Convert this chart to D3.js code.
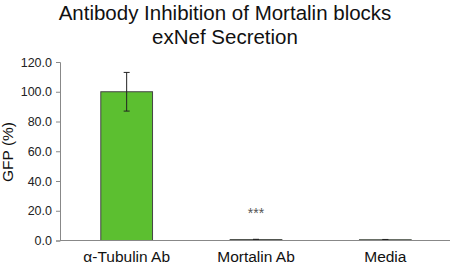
<!DOCTYPE html>
<html>
<head>
<meta charset="utf-8">
<script src="https://cdn.jsdelivr.net/npm/d3@7"></script>
<style>
  body { margin: 0; background: #fff; }
  text { font-family: 'Liberation Sans', Arial, sans-serif; }
</style>
</head>
<body>
<div id="chart"></div>
<script>
// Chart data
const categories = ['α-Tubulin Ab', 'Mortalin Ab', 'Media'];
const values = [100, 0.6, 0.5];
const errors = [13, 0.2, 0.2];
const yTicks = [0, 20, 40, 60, 80, 100, 120];
const titleLines = ['Antibody Inhibition of Mortalin blocks', 'exNef Secretion'];

const width = 450;
const height = 266;
const margin = { top: 62, right: 0, bottom: 25.5, left: 60 };

const svg = d3
  .select('#chart')
  .append('svg')
  .attr('width', width)
  .attr('height', height);

const x = d3
  .scaleBand()
  .domain(categories)
  .range([62, width])
  .padding(0);

const y = d3
  .scaleLinear()
  .domain([0, 120])
  .range([height - margin.bottom, margin.top]);

const barW = x.bandwidth() * 0.4;

// Title
svg
  .append('g')
  .selectAll('text')
  .data(titleLines)
  .enter()
  .append('text')
  .attr('x', 225)
  .attr('y', (d, i) => 20 + i * 24)
  .attr('text-anchor', 'middle')
  .style('font-size', '20.5px')
  .attr('fill', '#111')
  .text((d) => d);

// Y axis
const yAxis = svg
  .append('g')
  .attr('transform', `translate(${margin.left},0)`)
  .call(d3.axisLeft(y).tickValues(yTicks).tickSize(4).tickPadding(4).tickFormat(d3.format('.1f')));
yAxis.select('.domain').attr('stroke', '#888');
yAxis.selectAll('.tick line').attr('stroke', '#888');
yAxis.selectAll('.tick text').style('font-size', '12.5px').attr('fill', '#222');

// Y label
svg
  .append('text')
  .attr('transform', `translate(13,152) rotate(-90)`)
  .attr('text-anchor', 'middle')
  .style('font-size', '15.5px')
  .attr('fill', '#111')
  .text('GFP (%)');

// Bars
svg
  .append('g')
  .selectAll('rect')
  .data(values)
  .enter()
  .append('rect')
  .attr('x', (d, i) => x(categories[i]) + x.bandwidth() / 2 - barW / 2)
  .attr('y', (d) => y(d))
  .attr('width', barW)
  .attr('height', (d) => y(0) - y(d))
  .attr('fill', '#5cbf30')
  .attr('stroke', '#444')
  .attr('stroke-width', 1);

// Error bars
const eb = svg.append('g').attr('stroke', '#222').attr('stroke-width', 1);
values.forEach((v, i) => {
  const cx = x(categories[i]) + x.bandwidth() / 2;
  eb.append('line').attr('x1', cx).attr('x2', cx).attr('y1', y(v + errors[i])).attr('y2', y(v - errors[i]));
  eb.append('line').attr('x1', cx - 3).attr('x2', cx + 3).attr('y1', y(v + errors[i])).attr('y2', y(v + errors[i]));
  eb.append('line').attr('x1', cx - 3).attr('x2', cx + 3).attr('y1', y(v - errors[i])).attr('y2', y(v - errors[i]));
});

// X axis line
svg
  .append('line')
  .attr('x1', margin.left)
  .attr('x2', width)
  .attr('y1', y(0))
  .attr('y2', y(0))
  .attr('stroke', '#888');

// X labels (kept just inside the bottom edge)
svg
  .append('g')
  .selectAll('text')
  .data(categories)
  .enter()
  .append('text')
  .attr('x', (d) => x(d) + x.bandwidth() / 2)
  .attr('y', 262)
  .attr('text-anchor', 'middle')
  .style('font-size', '15.5px')
  .attr('fill', '#111')
  .text((d) => d);

// Significance marker
svg
  .append('text')
  .attr('x', x('Mortalin Ab') + x.bandwidth() / 2)
  .attr('y', 218)
  .attr('text-anchor', 'middle')
  .style('font-size', '14px')
  .attr('fill', '#555')
  .text('***');
</script>
</body>
</html>
